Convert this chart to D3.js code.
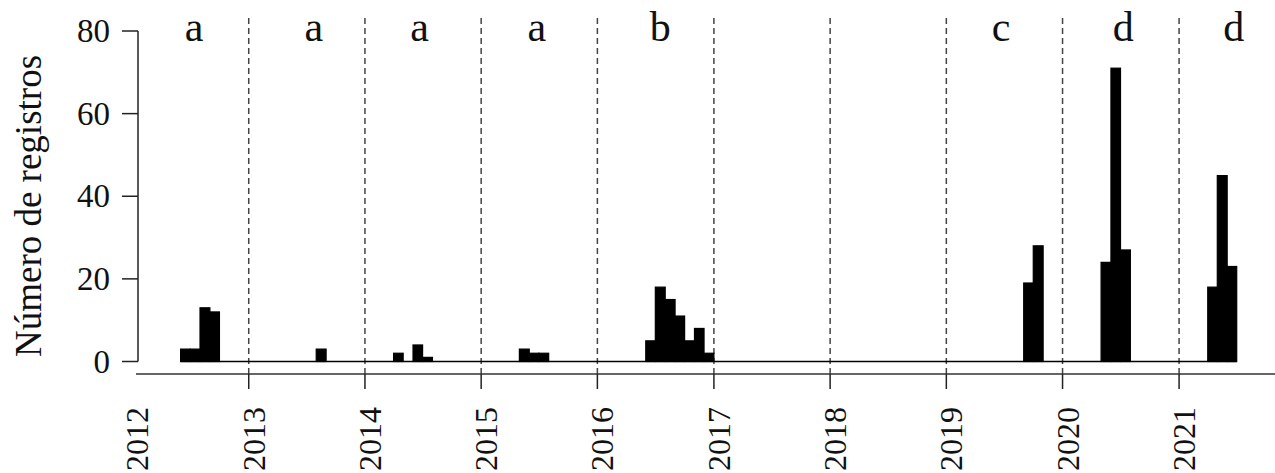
<!DOCTYPE html>
<html>
<head>
<meta charset="utf-8">
<script src="https://cdn.jsdelivr.net/npm/d3@7"></script>
</head>
<body style="margin:0;background:#fff">
<script>
// Monthly record counts (months without records are drawn at zero)
const months = ["2012-06","2012-07","2012-08","2012-09",
  "2013-08",
  "2014-04","2014-06","2014-07",
  "2015-05","2015-06","2015-07",
  "2016-06","2016-07","2016-08","2016-09","2016-10","2016-11","2016-12",
  "2019-09","2019-10",
  "2020-05","2020-06","2020-07",
  "2021-04","2021-05","2021-06"];
const counts = [3,3,13,12,
  3,
  2,4,1,
  3,2,2,
  5,18,15,11,5,8,2,
  19,28,
  24,71,27,
  18,45,23];

// Group letters shown above each year (position in decimal years)
const groupLetters = ["a","a","a","a","b","c","d","d"];
const groupPos = [2012.53, 2013.56, 2014.47, 2015.48, 2016.54, 2019.47, 2020.52, 2021.47];

const yearTicks = [2012,2013,2014,2015,2016,2017,2018,2019,2020,2021];
const yTicks = [0,20,40,60,80];

const FONT = '"Liberation Serif"';
const W = 1275, H = 473;
const svg = d3.select("body").append("svg")
  .attr("width", W).attr("height", H)
  .style("display", "block")
  .style("font-family", FONT);

const parse = d3.timeParse("%Y-%m");
const x = d3.scaleTime()
  .domain([new Date(2012,0,1), new Date(2022,0,1)])
  .range([132.2, 1295.3]);
const y = d3.scaleLinear().domain([0,80]).range([361.5, 31]);

const decYear = v => {
  const yr = Math.floor(v);
  const a = new Date(yr,0,1), b = new Date(yr+1,0,1);
  return new Date(+a + (v - yr) * (b - a));
};

// Full monthly series from first to last record
const countMap = new Map(months.map((m,i) => [m, counts[i]]));
const first = parse(months[0]);
const last = d3.timeMonth.offset(parse(months[months.length-1]), 1);
const bins = d3.timeMonth.range(first, last).map(d => ({
  start: d,
  end: d3.timeMonth.offset(d, 1),
  value: countMap.get(d3.timeFormat("%Y-%m")(d)) || 0
}));

// Year separators
const axisY = 374;
svg.append("g").selectAll("line")
  .data(yearTicks.filter(t => t > 2012))
  .join("line")
  .attr("x1", d => x(new Date(d,0,1))).attr("x2", d => x(new Date(d,0,1)))
  .attr("y1", 18).attr("y2", axisY)
  .attr("stroke", "#444").attr("stroke-width", 1.5)
  .attr("stroke-dasharray", "6,4");

// Histogram bars
svg.append("g").selectAll("rect")
  .data(bins)
  .join("rect")
  .attr("x", d => x(d.start))
  .attr("width", d => x(d.end) - x(d.start))
  .attr("y", d => y(d.value))
  .attr("height", d => y(0) - y(d.value))
  .attr("fill", "#000")
  .attr("stroke", "#000")
  .attr("stroke-width", 1.2);

// Baseline through the binned range
svg.append("line")
  .attr("x1", x(first)).attr("x2", x(last))
  .attr("y1", y(0)).attr("y2", y(0))
  .attr("stroke", "#000").attr("stroke-width", 1.5);

// Y axis
const yAxis = svg.append("g").attr("transform", "translate(138,0)");
yAxis.append("line").attr("x1",0).attr("x2",0).attr("y1",y(0)).attr("y2",y(80))
  .attr("stroke","#222").attr("stroke-width",1.5);
yAxis.selectAll("line.tick").data(yTicks).join("line").attr("class","tick")
  .attr("x1",-16).attr("x2",0).attr("y1",d=>y(d)).attr("y2",d=>y(d))
  .attr("stroke","#222").attr("stroke-width",1.5);
yAxis.selectAll("text").data(yTicks).join("text")
  .attr("x",-28).attr("y",d=>y(d)+11)
  .attr("text-anchor","end").attr("font-size",33)
  .attr("fill","#111").style("font-family", FONT)
  .text(d=>d);

svg.append("text")
  .attr("transform", "translate(41,206) rotate(-90)")
  .attr("text-anchor", "middle").attr("font-size", 37)
  .attr("fill","#111").style("font-family", FONT)
  .text("Número de registros");

// X axis
const xAxis = svg.append("g");
xAxis.append("line").attr("x1",136).attr("x2",W).attr("y1",axisY).attr("y2",axisY)
  .attr("stroke","#333").attr("stroke-width",1.5);
xAxis.selectAll("line.tick").data(yearTicks.filter(t => t > 2012)).join("line").attr("class","tick")
  .attr("x1",d=>x(new Date(d,0,1))).attr("x2",d=>x(new Date(d,0,1)))
  .attr("y1",axisY).attr("y2",axisY+15)
  .attr("stroke","#222").attr("stroke-width",1.5);
xAxis.selectAll("text").data(yearTicks).join("text")
  .attr("transform", d => `translate(${x(new Date(d,0,1)) + 16},407) rotate(-90)`)
  .attr("text-anchor","end").attr("font-size",32)
  .attr("fill","#111").style("font-family", FONT)
  .text(d=>d);

// Group letters
svg.append("g").selectAll("text")
  .data(groupLetters)
  .join("text")
  .attr("x", (d,i) => x(decYear(groupPos[i])))
  .attr("y", 41)
  .attr("text-anchor","middle").attr("font-size",42)
  .attr("fill","#111").style("font-family", FONT)
  .text(d=>d);
</script>
</body>
</html>
